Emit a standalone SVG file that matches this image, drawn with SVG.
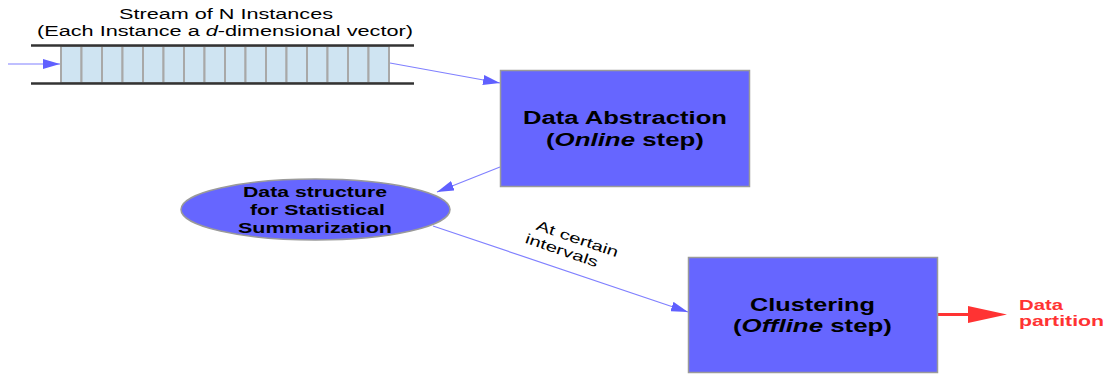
<svg xmlns="http://www.w3.org/2000/svg" width="1107" height="374" viewBox="0 0 1107 374">
<style>
.t{font-family:"Liberation Sans",Arial,sans-serif;fill:#000}
.b{font-weight:bold}
.box{fill:#6666ff;stroke:#9a9a9a;stroke-width:1.5}
.con{stroke:#8080ff;stroke-width:1.2;fill:none}
.cell{fill:#cfe4f2;stroke:#a8a8a8;stroke-width:2}
.rail{stroke:#333;stroke-width:2.5}
.red{font-family:"Liberation Sans",Arial,sans-serif;fill:#ff3333;font-weight:bold}
</style>
<defs>
<marker id="ah" markerUnits="userSpaceOnUse" markerWidth="18" markerHeight="10" refX="17" refY="5" orient="auto">
<path d="M0,0 L17,5 L0,10 Z" fill="#6060ff"/>
</marker>
</defs>
<rect width="1107" height="374" fill="#fff"/>

<g id="stream">
<text class="t" x="226" y="19" font-size="14" text-anchor="middle" textLength="214" lengthAdjust="spacingAndGlyphs">Stream of N Instances</text>
<text class="t" x="225" y="35.5" font-size="14" text-anchor="middle" textLength="376" lengthAdjust="spacingAndGlyphs">(Each Instance a <tspan font-style="italic">d</tspan>-dimensional vector)</text>
<rect class="cell" x="61" y="46" width="20.5" height="37"/>
<rect class="cell" x="81.5" y="46" width="20.5" height="37"/>
<rect class="cell" x="102" y="46" width="20.5" height="37"/>
<rect class="cell" x="122.5" y="46" width="20.5" height="37"/>
<rect class="cell" x="143" y="46" width="20.5" height="37"/>
<rect class="cell" x="163.5" y="46" width="20.5" height="37"/>
<rect class="cell" x="184" y="46" width="20.5" height="37"/>
<rect class="cell" x="204.5" y="46" width="20.5" height="37"/>
<rect class="cell" x="225" y="46" width="20.5" height="37"/>
<rect class="cell" x="245.5" y="46" width="20.5" height="37"/>
<rect class="cell" x="266" y="46" width="20.5" height="37"/>
<rect class="cell" x="286.5" y="46" width="20.5" height="37"/>
<rect class="cell" x="307" y="46" width="20.5" height="37"/>
<rect class="cell" x="327.5" y="46" width="20.5" height="37"/>
<rect class="cell" x="348" y="46" width="20.5" height="37"/>
<rect class="cell" x="368.5" y="46" width="20.5" height="37"/>
<line class="rail" x1="31" y1="45.5" x2="414" y2="45.5"/>
<line class="rail" x1="31" y1="83.5" x2="414" y2="83.5"/>
</g>

<g id="connectors">
<line class="con" x1="8" y1="64" x2="60" y2="64" marker-end="url(#ah)"/>
<line class="con" x1="390" y1="63" x2="500" y2="83" marker-end="url(#ah)"/>
<line class="con" x1="500" y1="167" x2="437" y2="192" marker-end="url(#ah)"/>
<line class="con" x1="433" y1="226" x2="688" y2="312" marker-end="url(#ah)"/>
<line x1="938" y1="314.5" x2="970" y2="314.5" stroke="#ff3333" stroke-width="3"/>
<polygon points="968,306 1007,314.5 968,323" fill="#ff3333"/>
<g transform="translate(571,248) rotate(19)">
<text class="t" x="3" y="-6" font-size="14" text-anchor="middle" textLength="86" lengthAdjust="spacingAndGlyphs">At certain</text>
<text class="t" x="-8" y="10" font-size="14" text-anchor="middle" textLength="76" lengthAdjust="spacingAndGlyphs">intervals</text>
</g>
</g>

<g id="data-abstraction">
<rect class="box" x="500.5" y="70.5" width="249" height="116"/>
<text class="t b" x="625" y="124" font-size="18" text-anchor="middle" textLength="204" lengthAdjust="spacingAndGlyphs">Data Abstraction</text>
<text class="t b" x="625" y="146" font-size="18" text-anchor="middle" textLength="158" lengthAdjust="spacingAndGlyphs">(<tspan font-style="italic">Online</tspan> step)</text>
</g>

<g id="data-structure">
<ellipse class="box" cx="315.5" cy="209.5" rx="134.5" ry="30.5"/>
<text class="t b" x="315" y="197" font-size="15" text-anchor="middle" textLength="144" lengthAdjust="spacingAndGlyphs">Data structure</text>
<text class="t b" x="317.5" y="215" font-size="15" text-anchor="middle" textLength="135" lengthAdjust="spacingAndGlyphs">for Statistical</text>
<text class="t b" x="315" y="232.5" font-size="15" text-anchor="middle" textLength="154" lengthAdjust="spacingAndGlyphs">Summarization</text>
</g>

<g id="clustering">
<rect class="box" x="688.5" y="257.5" width="249" height="115"/>
<text class="t b" x="812.5" y="311" font-size="18" text-anchor="middle" textLength="125" lengthAdjust="spacingAndGlyphs">Clustering</text>
<text class="t b" x="812.5" y="332" font-size="18" text-anchor="middle" textLength="159" lengthAdjust="spacingAndGlyphs">(<tspan font-style="italic">Offline</tspan> step)</text>
</g>

<g id="data-partition">
<text class="red" x="1019" y="310" font-size="15" textLength="44" lengthAdjust="spacingAndGlyphs">Data</text>
<text class="red" x="1019" y="326" font-size="15" textLength="85" lengthAdjust="spacingAndGlyphs">partition</text>
</g>
</svg>
